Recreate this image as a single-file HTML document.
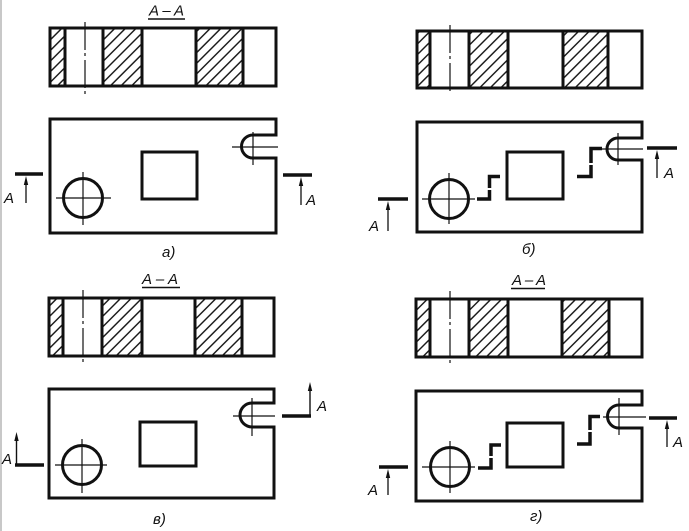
<!DOCTYPE html>
<html><head><meta charset="utf-8">
<style>
html,body{margin:0;padding:0;background:#fff;}
svg{display:block;}
text{font-family:"Liberation Sans",sans-serif;font-style:italic;fill:#111;}
</style></head><body>
<svg width="689" height="531" viewBox="0 0 689 531" xmlns="http://www.w3.org/2000/svg">
<defs>
<pattern id="h" patternUnits="userSpaceOnUse" width="7.5" height="7.5" patternTransform="rotate(45)">
<line x1="3.75" y1="-1" x2="3.75" y2="8.5" stroke="#111" stroke-width="1.4"/>
</pattern>
</defs>
<rect x="0" y="0" width="2" height="531" fill="#c8c8c8"/>

<!-- ===== а) ===== -->
<g stroke="#111" fill="none">
<rect x="50" y="28" width="15" height="58" fill="url(#h)" stroke="none"/>
<rect x="103" y="28" width="39" height="58" fill="url(#h)" stroke="none"/>
<rect x="196" y="28" width="47" height="58" fill="url(#h)" stroke="none"/>
<rect x="50" y="28" width="226" height="58" stroke-width="3"/>
<path d="M65,28V86 M103,28V86 M142,28V86 M196,28V86 M243,28V86" stroke-width="3"/>
<line x1="85" y1="22" x2="85" y2="94" stroke-width="1.2" stroke-dasharray="28,3,3,4"/>
<path d="M50,119H276V135H253A11.5,11.5 0 0 0 253,158H276V233H50Z" stroke-width="3"/>
<path d="M232,147H278 M253,132V165 M56,198H111 M83,172V225" stroke-width="1.2"/>
<rect x="142" y="152" width="55" height="47" stroke-width="3"/>
<circle cx="83" cy="198" r="19.5" stroke-width="3"/>
<path d="M15,174H43 M283,175H312" stroke-width="3.5"/>
<path d="M26,203V183 M301,205V185" stroke-width="1.3"/>
<line x1="148" y1="19" x2="185" y2="19" stroke-width="1.5"/>
</g>
<path d="M26,176l-2.2,9h4.4z M301,177l-2.2,9h4.4z" fill="#111"/>
<text x="149" y="15.5" font-size="15" textLength="35" lengthAdjust="spacing">A–A</text>
<text x="4" y="203" font-size="15">A</text>
<text x="306" y="205" font-size="15">A</text>
<text x="162" y="257" font-size="15">а)</text>

<!-- ===== б) ===== -->
<g stroke="#111" fill="none">
<rect x="417" y="31" width="13" height="57" fill="url(#h)" stroke="none"/>
<rect x="469" y="31" width="39" height="57" fill="url(#h)" stroke="none"/>
<rect x="563" y="31" width="45" height="57" fill="url(#h)" stroke="none"/>
<rect x="417" y="31" width="225" height="57" stroke-width="3"/>
<path d="M430,31V88 M469,31V88 M508,31V88 M563,31V88 M608,31V88" stroke-width="3"/>
<line x1="450" y1="25" x2="450" y2="94" stroke-width="1.2" stroke-dasharray="28,3,3,4"/>
<path d="M417,122H642V138H618A11,11 0 0 0 618,160H642V232H417Z" stroke-width="3"/>
<path d="M602,149H643 M618,133V165 M422,199H475 M449,173V224" stroke-width="1.2"/>
<rect x="507" y="152" width="56" height="47" stroke-width="3"/>
<circle cx="449" cy="199" r="19.5" stroke-width="3"/>
<path d="M477,199H489.5V176.5H500 M577,176.5H591V148.5H602" stroke-width="3.5"/>
<path d="M378,199H408 M647,148H677" stroke-width="3.5"/>
<path d="M388,231V209 M657,178V158" stroke-width="1.3"/>
</g>
<path d="M487,189h5 M589,164h5" stroke="#fff" stroke-width="2"/>
<path d="M388,201l-2.2,9h4.4z M657,150l-2.2,9h4.4z" fill="#111"/>
<text x="369" y="231" font-size="15">A</text>
<text x="664" y="178" font-size="15">A</text>
<text x="522" y="254" font-size="15">б)</text>

<!-- ===== в) ===== -->
<g stroke="#111" fill="none">
<rect x="49" y="298" width="14" height="58" fill="url(#h)" stroke="none"/>
<rect x="102" y="298" width="40" height="58" fill="url(#h)" stroke="none"/>
<rect x="195" y="298" width="47" height="58" fill="url(#h)" stroke="none"/>
<rect x="49" y="298" width="225" height="58" stroke-width="3"/>
<path d="M63,298V356 M102,298V356 M142,298V356 M195,298V356 M242,298V356" stroke-width="3"/>
<line x1="83" y1="290" x2="83" y2="362" stroke-width="1.2" stroke-dasharray="28,3,3,4"/>
<path d="M49,389H274V403H252A12,12 0 0 0 252,427H274V498H49Z" stroke-width="3"/>
<path d="M233,416H275 M252,398V436 M55,465H107 M82,439V493" stroke-width="1.2"/>
<rect x="140" y="422" width="56" height="44" stroke-width="3"/>
<circle cx="82" cy="465" r="19.5" stroke-width="3"/>
<path d="M15,465H44 M282,416H311" stroke-width="3.5"/>
<path d="M16.5,465V440 M310,416V390" stroke-width="1.4"/>
<line x1="142" y1="287.5" x2="180" y2="287.5" stroke-width="1.5"/>
</g>
<path d="M16.5,432l-2.2,9h4.4z M310,382l-2.2,9h4.4z" fill="#111"/>
<text x="142" y="284" font-size="15" textLength="36" lengthAdjust="spacing">A–A</text>
<text x="2" y="464" font-size="15">A</text>
<text x="317" y="411" font-size="15">A</text>
<text x="153" y="524" font-size="15">в)</text>

<!-- ===== г) ===== -->
<g stroke="#111" fill="none">
<rect x="416" y="299" width="14" height="58" fill="url(#h)" stroke="none"/>
<rect x="469" y="299" width="39" height="58" fill="url(#h)" stroke="none"/>
<rect x="562" y="299" width="47" height="58" fill="url(#h)" stroke="none"/>
<rect x="416" y="299" width="226" height="58" stroke-width="3"/>
<path d="M430,299V357 M469,299V357 M508,299V357 M562,299V357 M609,299V357" stroke-width="3"/>
<line x1="450" y1="291" x2="450" y2="364" stroke-width="1.2" stroke-dasharray="28,3,3,4"/>
<path d="M416,391H642V405H619A11.5,11.5 0 0 0 619,428H642V501H416Z" stroke-width="3"/>
<path d="M603,417H646 M619,398V435 M422,467H475 M450,441V493" stroke-width="1.2"/>
<rect x="507" y="423" width="56" height="44" stroke-width="3"/>
<circle cx="450" cy="467" r="19.5" stroke-width="3"/>
<path d="M478,468H491V445H501 M577,444H590V416.5H600" stroke-width="3.5"/>
<path d="M379,467H408 M649,418H677" stroke-width="3.5"/>
<path d="M388,495V477 M667,447V428" stroke-width="1.3"/>
<line x1="511" y1="288.5" x2="545" y2="288.5" stroke-width="1.5"/>
</g>
<path d="M489,457h5 M588,431h5" stroke="#fff" stroke-width="2"/>
<path d="M388,469l-2.2,9h4.4z M667,420l-2.2,9h4.4z" fill="#111"/>
<text x="512" y="285" font-size="15" textLength="34" lengthAdjust="spacing">A–A</text>
<text x="368" y="495" font-size="15">A</text>
<text x="673" y="447" font-size="15">A</text>
<text x="530" y="521" font-size="15">г)</text>
</svg>
</body></html>
